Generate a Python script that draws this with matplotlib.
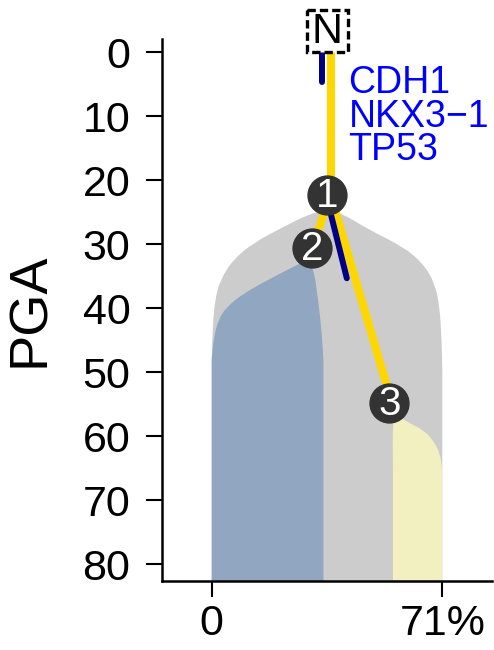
import matplotlib.pyplot as plt
from matplotlib.patches import Rectangle, PathPatch
from matplotlib.path import Path

plt.rcParams['font.family'] = ['Liberation Sans', 'DejaVu Sans']

# clone outlines (cell fraction %, PGA), each edge runs top -> down
bottom = 82.6
grey_left_x = [35.4, 30.3, 22.0, 12.8, 6.6, 2.6, 1.0, 0.3, 0.0]
grey_left_y = [24.7, 25.2, 27.3, 29.8, 32.4, 35.6, 38.7, 42.9, 48.1]
grey_right_x = [35.4, 39.5, 48.7, 59.0, 65.1, 68.7, 70.2, 70.8, 71.0]
grey_right_y = [24.7, 25.0, 27.8, 30.4, 33.0, 36.1, 39.8, 45.0, 49.6]

blue_left_x = [28.9, 27.2, 19.0, 9.7, 4.6, 2.0, 0.5, 0.0]
blue_left_y = [32.6, 33.0, 35.1, 37.7, 39.8, 41.8, 45.0, 48.1]
blue_right_x = [28.9, 31.3, 32.8, 33.9, 34.4]
blue_right_y = [32.6, 33.5, 38.7, 43.9, 48.1]

yellow_left_x = [57.0, 55.7, 55.8]
yellow_left_y = [56.6, 57.5, 65.3]
yellow_right_x = [57.0, 60.0, 65.1, 68.2, 70.3, 70.9, 71.0]
yellow_right_y = [56.6, 57.7, 59.0, 60.6, 62.7, 64.8, 66.8]

# tree
node_labels = ['1', '2', '3']
node_x = [35.4, 30.8, 54.7]
node_y = [22.3, 30.6, 54.8]
trunk_x = 36.6
branch_ends = [(30.8, 30.6), (55.5, 54.8)]
mut_segments = [((33.9, 0.1), (33.9, 4.6)), ((35.8, 23.5), (41.6, 35.3))]
genes = ['CDH1', 'NKX3\u22121', 'TP53']
gene_y = [6.4, 11.6, 16.9]


def smooth(pts):
    # quadratic spline through the midpoints, ends kept
    verts, codes = [], []
    for i in range(1, len(pts) - 1):
        m0 = ((pts[i - 1][0] + pts[i][0]) / 2, (pts[i - 1][1] + pts[i][1]) / 2)
        m1 = ((pts[i][0] + pts[i + 1][0]) / 2, (pts[i][1] + pts[i + 1][1]) / 2)
        if i == 1:
            verts.append(m0)
            codes.append(Path.LINETO)
        verts += [pts[i], m1]
        codes += [Path.CURVE3, Path.CURVE3]
    verts.append(pts[-1])
    codes.append(Path.LINETO)
    return verts, codes


def clone_patch(lx, ly, rx, ry, color):
    left = list(zip(lx, ly))[::-1]
    right = list(zip(rx, ry))
    verts = [(left[0][0], bottom), left[0]]
    codes = [Path.MOVETO, Path.LINETO]
    for edge in (left, right):
        v, c = smooth(edge)
        verts += v
        codes += c
    verts += [(right[-1][0], bottom), (0, 0)]
    codes += [Path.LINETO, Path.CLOSEPOLY]
    return PathPatch(Path(verts, codes), facecolor=color, lw=0)


fig = plt.figure(figsize=(4.94, 6.5), dpi=100)
ax = fig.add_axes([0.3273, 0.1062, 0.6686, 0.8334])

p = clone_patch(grey_left_x, grey_left_y, grey_right_x, grey_right_y, '#cccccc')
p.set_zorder(1)
ax.add_patch(p)
p = clone_patch(blue_left_x, blue_left_y, blue_right_x, blue_right_y, '#91a6c1')
p.set_zorder(2)
ax.add_patch(p)
p = clone_patch(yellow_left_x, yellow_left_y, yellow_right_x, yellow_right_y, '#f2efc0')
p.set_zorder(2)
ax.add_patch(p)

# yellow branches
ax.plot([trunk_x, trunk_x], [-0.2, node_y[0]], color='#ffd700', lw=5.8, solid_capstyle='butt', zorder=3, clip_on=False)
for bx, by in branch_ends:
    ax.plot([trunk_x, bx], [node_y[0], by], color='#ffd700', lw=5.8, solid_capstyle='butt', zorder=3)

# mutation markers
for (x0, y0), (x1, y1) in mut_segments:
    ax.plot([x0, x1], [y0, y1], color='#000080', lw=4.3, solid_capstyle='round', zorder=4, clip_on=False)

for lab, x, y in zip(node_labels, node_x, node_y):
    ax.plot(x, y, 'o', ms=28, mfc='#333333', mec='#333333', zorder=5, clip_on=False)
    ax.text(x, y + 0.2, lab, color='white', fontsize=29, ha='center', va='center', zorder=6)

# normal node box
ax.add_patch(Rectangle((29.2, -6.6), 12.8, 6.5, facecolor='white', edgecolor='black',
                       lw=2.4, ls=(0, (2.5, 1.2)), zorder=6, clip_on=False))
ax.text(35.6, -3.2, 'N', fontsize=31, ha='center', va='center', zorder=7, clip_on=False)

for g, y in zip(genes, gene_y):
    ax.text(42.1, y, g, color='#0000ff', fontsize=27, ha='left', va='baseline', zorder=7)

ax.set_xlim(-15.4, 86.3)
ax.set_ylim(bottom, -2.03)
ax.set_xticks([0, 71])
ax.set_xticklabels(['0', '71%'])
ax.set_yticks(range(0, 81, 10))
ax.set_ylabel('PGA', fontsize=39, labelpad=20)

ax.spines['top'].set_visible(False)
ax.spines['right'].set_visible(False)
for s in ['left', 'bottom']:
    ax.spines[s].set_linewidth(1.8)
ax.tick_params(labelsize=31, length=11.5, width=1.5)
ax.tick_params(axis='y', pad=11)
ax.tick_params(axis='x', pad=5)

fig.savefig('out.png', dpi=100)
